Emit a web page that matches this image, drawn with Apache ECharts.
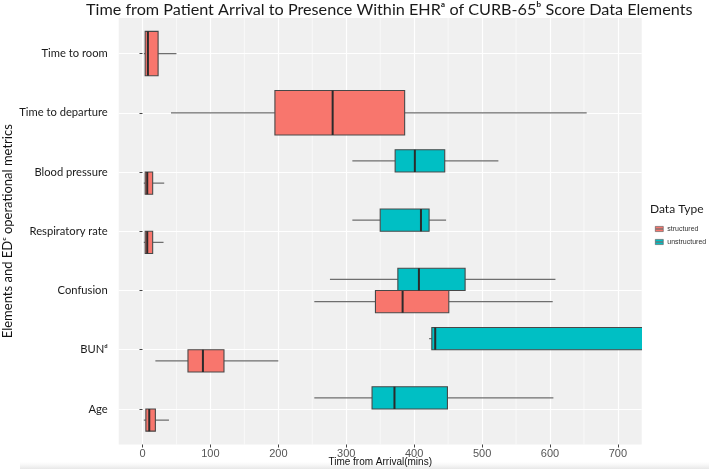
<!DOCTYPE html>
<html>
<head>
<meta charset="utf-8">
<script src="https://cdn.jsdelivr.net/npm/echarts@6/dist/echarts.min.js"></script>
<style>
html,body{margin:0;padding:0;background:#fff;}
#chart{width:709px;height:469px;}
</style>
</head>
<body>
<div id="chart"></div>
<script>
// ---- data (top to bottom) ----
const categories = ['Time to room', 'Time to departure', 'Blood pressure', 'Respiratory rate', 'Confusion', 'BUNᵈ', 'Age'];
// [min, q1, median, q3, max] in minutes
const structuredStats = [
  [2, 4, 8, 23, 50],
  [42, 195, 280, 386, 654],
  [2, 4, 7, 15, 32],
  [2, 4, 7, 15, 31],
  [253, 343, 383, 451, 604],
  [19, 67, 89, 120, 200],
  [2, 5, 10, 19, 39]
];
const unstructuredStats = [
  null,
  null,
  [309, 372, 401, 445, 524],
  [309, 350, 410, 422, 447],
  [276, 376, 407, 475, 608],
  [422, 426, 431, 790, 980],
  [253, 338, 371, 449, 605]
];
const seriesNames = ['structured', 'unstructured'];
const xTicks = [0, 100, 200, 300, 400, 500, 600, 700];
const xMinorBreaks = [50, 150, 250, 350, 450, 550, 650];
const titleText = 'Time from Patient Arrival to Presence Within EHRᵃ of CURB-65ᵇ Score Data Elements';
const xTitle = 'Time from Arrival(mins)';
const yTitle = 'Elements and EDᶜ operational metrics';
const legendTitle = 'Data Type';

// ---- build ----
const colors = { structured: '#F8766D', unstructured: '#00BFC4' };
const BOX_W = 0.75;
const yPositions = categories.map((c, i) => i + 1);

function buildData(stats, other) {
  const out = [];
  stats.forEach((s, i) => {
    if (s) out.push([i + 1, s[0], s[1], s[2], s[3], s[4], other[i] ? 1 : 0]);
  });
  return out;
}

function makeRender(group) {
  return function (params, api) {
    const cat = api.value(0);
    const paired = api.value(6) === 1;
    const half = paired ? BOX_W / 4 : BOX_W / 2;
    const shift = paired ? (group === 'structured' ? BOX_W / 4 : -BOX_W / 4) : 0;
    const yc = cat + shift;
    const pMin = api.coord([api.value(1), yc]);
    const pQ1 = api.coord([api.value(2), yc]);
    const pMed = api.coord([api.value(3), yc]);
    const pQ3 = api.coord([api.value(4), yc]);
    const pMax = api.coord([api.value(5), yc]);
    const yA = api.coord([api.value(2), yc - half])[1];
    const yB = api.coord([api.value(2), yc + half])[1];
    const top = Math.min(yA, yB), h = Math.abs(yB - yA);
    const wStyle = { stroke: '#6e6e6e', lineWidth: 1.3 };
    return {
      type: 'group',
      children: [
        { type: 'line', shape: { x1: pMin[0], y1: pMin[1], x2: pQ1[0], y2: pQ1[1] }, style: wStyle },
        { type: 'line', shape: { x1: pQ3[0], y1: pQ3[1], x2: pMax[0], y2: pMax[1] }, style: wStyle },
        { type: 'rect', shape: { x: pQ1[0], y: top, width: pQ3[0] - pQ1[0], height: h },
          style: { fill: colors[group], stroke: '#484848', lineWidth: 1.1 } },
        { type: 'line', shape: { x1: pMed[0], y1: top, x2: pMed[0], y2: top + h },
          style: { stroke: '#2b2b2b', lineWidth: 2 } }
      ]
    };
  };
}

const chart = echarts.init(document.getElementById('chart'), null, { renderer: 'canvas' });
const option = {
  animation: false,
  backgroundColor: '#ffffff',
  title: [
    { text: titleText, left: 86, top: 2, padding: 0,
      textStyle: { fontFamily: 'Lato', fontSize: 16.2, fontWeight: 'normal', color: '#1a1a1a' } },
    { text: legendTitle, left: 650, top: 203, padding: 0,
      textStyle: { fontFamily: 'Lato', fontSize: 12, fontWeight: 'normal', color: '#1a1a1a' } }
  ],
  legend: {
    orient: 'vertical', left: 655, top: 224.5, padding: 0,
    itemWidth: 8, itemHeight: 6.5, itemGap: 4,
    icon: 'path://M0,0H17V5H0Z M0,6H17V11H0Z',
    itemStyle: { borderColor: '#555', borderWidth: 0.6 },
    textStyle: { fontFamily: 'Liberation Sans', fontSize: 7, lineHeight: 9, color: '#333', padding: [0, 0, 0, -1] },
    data: seriesNames
  },
  grid: { left: 118.7, right: 67.3, top: 18, bottom: 24.5, outerBoundsMode: 'none', containLabel: false,
    show: true, backgroundColor: '#F0F0F0', borderWidth: 0 },
  xAxis: {
    type: 'value', min: -35, max: 735, minInterval: 100, maxInterval: 100, splitNumber: 8,
    name: xTitle, nameLocation: 'middle', nameGap: 13, nameMoveOverlap: false,
    nameTextStyle: { fontFamily: 'Liberation Sans', fontSize: 10, color: '#111' },
    axisLine: { show: false },
    axisTick: { show: true, length: 3, lineStyle: { color: '#444' }, customValues: xTicks },
    axisLabel: { margin: 4, fontFamily: 'Liberation Sans', fontSize: 11, color: '#555', customValues: xTicks },
    splitLine: { show: true, lineStyle: { color: '#ffffff', width: 1.2 } }
  },
  yAxis: {
    type: 'value', inverse: true, min: 0.4, max: 7.6, minInterval: 1, maxInterval: 1, splitNumber: 7,
    name: yTitle, nameLocation: 'middle', nameGap: 104, nameMoveOverlap: false,
    nameTextStyle: { fontFamily: 'Lato', fontSize: 13, color: '#111' },
    axisLine: { show: false },
    axisTick: { show: true, length: 3, lineStyle: { color: '#444' }, customValues: yPositions },
    axisLabel: { margin: 11, fontFamily: 'Lato', fontSize: 11.2, color: '#1a1a1a', customValues: yPositions,
      formatter: v => (Number.isInteger(v) && v >= 1 && v <= categories.length) ? categories[v - 1] : '' },
    splitLine: { show: true, lineStyle: { color: '#ffffff', width: 1.2 } }
  },
  series: [
    {
      type: 'custom', name: 'minor-grid', silent: true, z: 0, legendHoverLink: false,
      data: xMinorBreaks,
      renderItem: function (params, api) {
        const cs = params.coordSys;
        const x = api.coord([api.value(0), 1])[0];
        return { type: 'line', shape: { x1: x, y1: cs.y, x2: x, y2: cs.y + cs.height },
          style: { stroke: '#ffffff', lineWidth: 0.6 } };
      },
      encode: { x: 0 }
    },
    {
      type: 'custom', name: 'structured', clip: true, z: 2,
      itemStyle: { color: colors.structured },
      data: buildData(structuredStats, unstructuredStats),
      renderItem: makeRender('structured'),
      encode: { x: [1, 2, 3, 4, 5], y: 0 }
    },
    {
      type: 'custom', name: 'unstructured', clip: true, z: 2,
      itemStyle: { color: colors.unstructured },
      data: buildData(unstructuredStats, structuredStats),
      renderItem: makeRender('unstructured'),
      encode: { x: [1, 2, 3, 4, 5], y: 0 }
    }
  ],
  graphic: [{
    type: 'rect', left: 20, top: 462, silent: true, z: -1,
    shape: { width: 689, height: 7 },
    style: { fill: new echarts.graphic.LinearGradient(0, 0, 0, 1, [
      { offset: 0, color: 'rgba(235,235,235,0)' }, { offset: 1, color: 'rgba(225,225,225,0.8)' }]) }
  }]
};
chart.setOption(option);
</script>
</body>
</html>
